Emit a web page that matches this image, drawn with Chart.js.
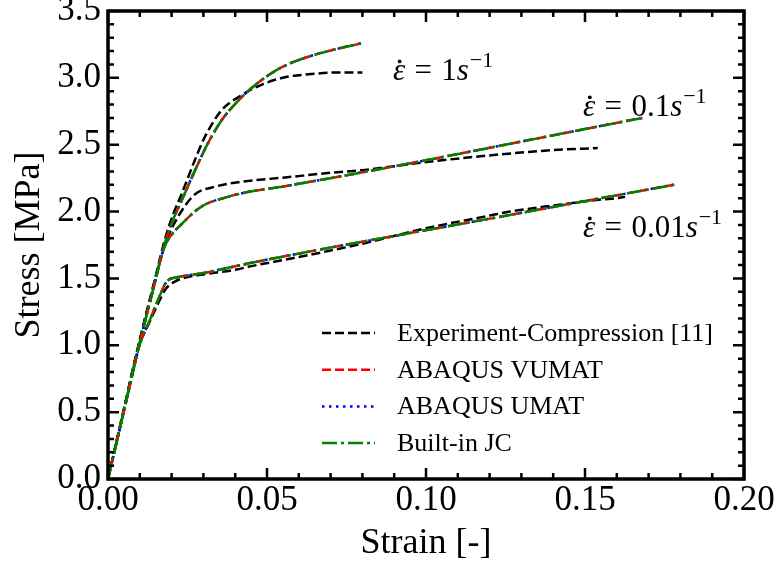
<!DOCTYPE html>
<html><head><meta charset="utf-8">
<script src="https://cdn.jsdelivr.net/npm/chart.js@4.4.0/dist/chart.umd.min.js"></script>
<style>html,body{margin:0;padding:0;background:#fff;} #wrap{width:778px;height:569px;}</style>
</head><body><div id="wrap"><canvas id="c" width="778" height="569"></canvas></div>
<script>
// ---- tick labels ----
const xTickValues = [0, 0.05, 0.10, 0.15, 0.20];
const xTickLabels = ['0.00', '0.05', '0.10', '0.15', '0.20'];
const yTickValues = [0, 0.5, 1.0, 1.5, 2.0, 2.5, 3.0, 3.5];
const yTickLabels = ['0.0', '0.5', '1.0', '1.5', '2.0', '2.5', '3.0', '3.5'];

// ---- legend / series names ----
const seriesNames = ['Experiment-Compression [11]', 'ABAQUS VUMAT', 'ABAQUS UMAT', 'Built-in JC'];
const rateLabels = ['1', '0.1', '0.01'];
const rateLabelPos = [[0.0896, 2.984], [0.1494, 2.715], [0.1494, 1.81]];

// ---- experiment, 1 s^-1 ----
const expX1 = [0, 0.005, 0.01, 0.014, 0.018, 0.0205, 0.0233, 0.0274, 0.0305, 0.0358, 0.042, 0.0484, 0.0557, 0.065, 0.072, 0.08];
const expY1 = [0, 0.52, 1.04, 1.42, 1.80, 1.98, 2.14, 2.39, 2.56, 2.76, 2.87, 2.95, 3.005, 3.03, 3.04, 3.04];
// ---- simulation, 1 s^-1 ----
const simX1 = [0, 0.005, 0.01, 0.014, 0.018, 0.0205, 0.0233, 0.0274, 0.0314, 0.0358, 0.041, 0.047, 0.0547, 0.062, 0.07, 0.08];
const simY1 = [0, 0.51, 1.02, 1.40, 1.77, 1.94, 2.09, 2.31, 2.51, 2.685, 2.83, 2.96, 3.08, 3.15, 3.205, 3.26];

// ---- experiment, 0.1 s^-1 ----
const expX2 = [0, 0.005, 0.01, 0.014, 0.018, 0.022, 0.0274, 0.0327, 0.041, 0.0557, 0.07, 0.08, 0.10, 0.12, 0.14, 0.154];
const expY2 = [0, 0.52, 1.04, 1.42, 1.76, 1.96, 2.13, 2.18, 2.22, 2.255, 2.29, 2.31, 2.37, 2.42, 2.46, 2.475];
// ---- simulation, 0.1 s^-1 ----
const simX2 = [0, 0.005, 0.01, 0.014, 0.0175, 0.0189, 0.0233, 0.0296, 0.0377, 0.0447, 0.0557, 0.168];
const simY2 = [0, 0.51, 1.02, 1.40, 1.72, 1.79, 1.91, 2.04, 2.11, 2.15, 2.19, 2.70];

// ---- experiment, 0.01 s^-1 ----
const expX3 = [0, 0.005, 0.0095, 0.0132, 0.0155, 0.0178, 0.0205, 0.025, 0.03, 0.04, 0.0447, 0.06, 0.08, 0.10, 0.12, 0.1264, 0.14, 0.155, 0.16, 0.1626];
const expY3 = [0, 0.52, 0.98, 1.18, 1.30, 1.41, 1.47, 1.51, 1.53, 1.565, 1.59, 1.66, 1.76, 1.875, 1.97, 2.0, 2.045, 2.09, 2.10, 2.11];
// ---- simulation, 0.01 s^-1 ----
const simX3 = [0, 0.005, 0.0095, 0.0132, 0.0154, 0.0186, 0.022, 0.03, 0.0447, 0.1264, 0.179];
const simY3 = [0, 0.51, 0.97, 1.19, 1.32, 1.48, 1.51, 1.54, 1.615, 1.975, 2.205];

const SERIF = '"Liberation Serif", "Times New Roman", serif';
const styles = [
  {color: '#000000', dash: [9, 4], order: 4},
  {color: '#ff0000', dash: [9, 4], order: 2},
  {color: '#0000ff', dash: [2.5, 4.5], order: 3},
  {color: '#008000', dash: [15, 4, 3, 4], order: 1}
];

function mk(xs, ys, k, label) {
  return {
    label: label,
    data: xs.map((v, i) => ({x: v, y: ys[i]})),
    borderColor: styles[k].color,
    backgroundColor: styles[k].color,
    borderWidth: 2.5,
    borderDash: styles[k].dash,
    pointRadius: 0,
    showLine: true,
    fill: false,
    cubicInterpolationMode: 'monotone',
    order: styles[k].order
  };
}

const datasets = [];
const expSets = [[expX1, expY1], [expX2, expY2], [expX3, expY3]];
const simSets = [[simX1, simY1], [simX2, simY2], [simX3, simY3]];
for (let r = 0; r < 3; r++) {
  datasets.push(mk(expSets[r][0], expSets[r][1], 0, seriesNames[0]));
  for (let k = 1; k < 4; k++) datasets.push(mk(simSets[r][0], simSets[r][1], k, seriesNames[k]));
}

const framePlugin = {
  id: 'frame',
  afterDatasetsDraw(chart) {
    const {ctx, chartArea: a, scales} = chart;
    const xs = scales.x, ys = scales.y;
    ctx.save();
    ctx.strokeStyle = '#000';
    // minor & major ticks (inward, all sides)
    ctx.lineWidth = 2.5;
    for (let i = 0; i <= 20; i++) {
      const px = xs.getPixelForValue(i * 0.01);
      const L = (i % 5 === 0) ? 11 : 6;
      ctx.beginPath();
      ctx.moveTo(px, a.bottom); ctx.lineTo(px, a.bottom - L);
      ctx.moveTo(px, a.top); ctx.lineTo(px, a.top + L);
      ctx.stroke();
    }
    for (let i = 0; i <= 35; i++) {
      const py = ys.getPixelForValue(i * 0.1);
      const L = (i % 5 === 0) ? 11 : 6;
      ctx.beginPath();
      ctx.moveTo(a.left, py); ctx.lineTo(a.left + L, py);
      ctx.moveTo(a.right, py); ctx.lineTo(a.right - L, py);
      ctx.stroke();
    }
    ctx.lineWidth = 3.5;
    ctx.strokeRect(a.left, a.top, a.right - a.left, a.bottom - a.top);

    // rate annotations
    const fs = 31;
    ctx.fillStyle = '#000';
    ctx.textBaseline = 'alphabetic';
    ctx.textAlign = 'left';
    for (let r = 0; r < 3; r++) {
      const x = xs.getPixelForValue(rateLabelPos[r][0]);
      const y = ys.getPixelForValue(rateLabelPos[r][1]);
      ctx.font = 'italic ' + fs + 'px ' + SERIF;
      ctx.fillText('ε', x, y);
      const w = ctx.measureText('ε').width;
      ctx.beginPath(); ctx.arc(x + w * 0.55, y - fs * 0.6, 1.9, 0, Math.PI * 2); ctx.fill();
      let cx = x + w + fs * 0.3;
      ctx.font = fs + 'px ' + SERIF;
      ctx.fillText('=', cx, y); cx += ctx.measureText('=').width + fs * 0.3;
      ctx.fillText(rateLabels[r], cx, y); cx += ctx.measureText(rateLabels[r]).width;
      ctx.font = 'italic ' + fs + 'px ' + SERIF;
      ctx.fillText('s', cx, y); cx += ctx.measureText('s').width + 1;
      ctx.font = Math.round(fs * 0.72) + 'px ' + SERIF;
      ctx.fillText('−1', cx, y - fs * 0.42);
    }

    // legend
    const lx0 = a.right - 422, lx1 = a.right - 369, tx = a.right - 347;
    const rowY0 = a.top + 322, rowStep = 36.7;
    ctx.font = '26px ' + SERIF;
    ctx.textBaseline = 'middle';
    for (let k = 0; k < 4; k++) {
      const y = rowY0 + k * rowStep;
      ctx.save();
      ctx.strokeStyle = styles[k].color;
      ctx.lineWidth = 2.5;
      ctx.setLineDash(styles[k].dash);
      ctx.beginPath(); ctx.moveTo(lx0, y); ctx.lineTo(lx1, y); ctx.stroke();
      ctx.restore();
      ctx.fillStyle = '#000';
      ctx.fillText(seriesNames[k], tx, y + 1);
    }
    ctx.restore();
  }
};

new Chart(document.getElementById('c'), {
  type: 'scatter',
  data: {datasets: datasets},
  plugins: [framePlugin],
  options: {
    responsive: false,
    devicePixelRatio: 1,
    animation: false,
    layout: {padding: {left: 0, top: 11, right: 34, bottom: 0}},
    plugins: {legend: {display: false}, tooltip: {enabled: false}},
    scales: {
      x: {
        type: 'linear', min: 0, max: 0.2,
        grid: {display: false, drawTicks: false},
        border: {display: false},
        afterBuildTicks(s) { s.ticks = xTickValues.map(v => ({value: v})); },
        afterFit(s) { s.height = 90; s.paddingLeft = 0; s.paddingRight = 0; },
        ticks: {
          color: '#000', padding: 1, maxRotation: 0, autoSkip: false,
          font: {family: SERIF, size: 35, lineHeight: 1.2},
          callback: (v, i) => xTickLabels[i]
        },
        title: {display: true, text: 'Strain [-]', color: '#000',
          font: {family: SERIF, size: 36, lineHeight: 1.2}, padding: {top: 0, bottom: 4}}
      },
      y: {
        type: 'linear', min: 0, max: 3.5,
        grid: {display: false, drawTicks: false},
        border: {display: false},
        afterBuildTicks(s) { s.ticks = yTickValues.map(v => ({value: v})); },
        afterFit(s) { s.width = 108; s.paddingTop = 0; s.paddingBottom = 0; },
        ticks: {
          color: '#000', padding: 7, autoSkip: false,
          font: {family: SERIF, size: 35, lineHeight: 1.2},
          callback: (v, i) => yTickLabels[i]
        },
        title: {display: true, text: 'Stress [MPa]', color: '#000',
          font: {family: SERIF, size: 36, lineHeight: 1.2}, padding: {top: 8, bottom: 0}}
      }
    }
  }
});
</script>
</body></html>
